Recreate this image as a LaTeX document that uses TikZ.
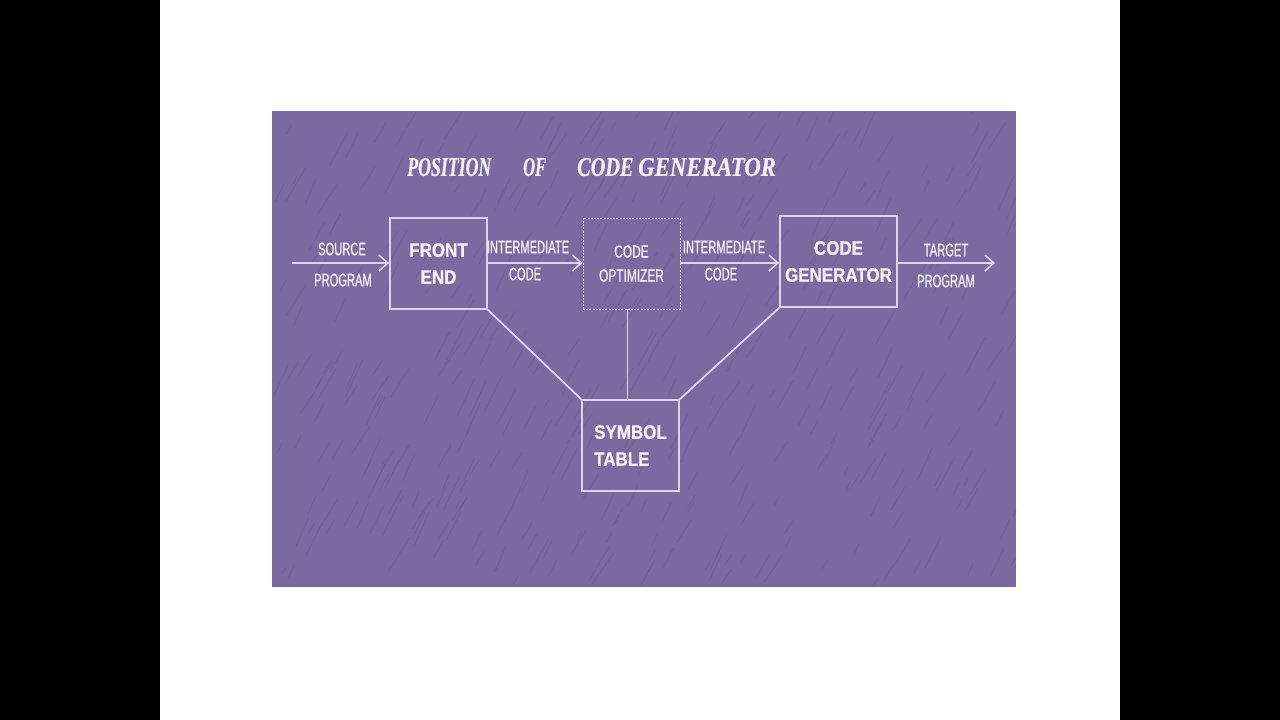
\documentclass[tikz,border=0pt]{standalone}
\usepackage{fontspec}
\setmainfont{Liberation Sans}
\newfontfamily\labfont[FakeStretch=0.62,FakeBold=0.8]{Liberation Sans}
\newfontfamily\optfont[FakeStretch=0.68,FakeBold=0.6]{Liberation Sans}
\newfontfamily\boxfont[FakeStretch=0.87,FakeBold=0.8]{Liberation Sans}
\newfontfamily\titlefont[FakeBold=0.8]{Liberation Serif}
\usetikzlibrary{arrows.meta}
\definecolor{slidebg}{RGB}{123,106,160}
\definecolor{streakc}{RGB}{92,78,128}
\definecolor{linec}{RGB}{222,212,242}
\definecolor{txtc}{RGB}{245,240,252}
\tikzset{
  blockbox/.style={draw=linec, line width=1.8pt, minimum width=97pt, minimum height=91pt, inner sep=0pt,
    text=txtc, font=\boxfont\bfseries\fontsize{19.5}{27}\selectfont, align=center},
  dotbox/.style={draw=linec, line width=0.9pt, dash pattern=on 2pt off 1.2pt, minimum width=97pt, minimum height=91pt, inner sep=0pt,
    text=txtc, font=\optfont\fontsize{17.5}{24}\selectfont, align=center},
  lab/.style={text=txtc, font=\labfont\fontsize{18}{20}\selectfont, inner sep=0pt},
  ttl/.style={text=txtc, font=\titlefont\bfseries\itshape\fontsize{27}{28}\selectfont, inner sep=0pt, anchor=west},
  flow/.style={draw=linec, line width=1.8pt, -{Straight Barb[length=9pt,width=16pt,line width=1.6pt]}},
  link/.style={draw=linec, line width=1.8pt},
  thinlink/.style={draw=linec, line width=0.9pt},
  streak/.style={draw=streakc, line width=0.6pt, opacity=0.35}
}
\begin{document}
\begin{tikzpicture}[x=1pt,y=-1pt]
\useasboundingbox (0,0) rectangle (1280,720);
\fill[black] (0,0) rectangle (1280,720);
\fill[white] (160,0) rectangle (1120,720);
\fill[slidebg] (272,111) rectangle (1016,587);
% background texture
\pgfmathsetseed{7}
\begin{scope}
\clip (272,111) rectangle (1016,587);
\foreach \i in {1,...,450}{
  \pgfmathsetmacro\xx{272+744*rnd}
  \pgfmathsetmacro\yy{111+476*rnd}
  \pgfmathsetmacro\ll{8+34*rnd}
  \pgfmathsetmacro\aa{-55-12*rnd}
  \draw[streak] (\xx,\yy) -- ++(\aa:\ll);
}
\end{scope}
% title
\node[ttl] (t1) at (407,167) {\scalebox{0.66}[1]{POSITION}};
\node[ttl] (t2) at (523,167) {\scalebox{0.61}[1]{OF}};
\node[ttl] (t3) at (577,167) {\scalebox{0.75}[1]{CODE}};
\node[ttl] (t4) at (638,167) {\scalebox{0.845}[1]{GENERATOR}};
% boxes
\node[blockbox] (fe) at (438.5,263.5) {FRONT\\END};
\node[dotbox] (co) at (631.5,263.5) {CODE\\OPTIMIZER};
\node[blockbox, minimum width=117pt] (cg) at (838.5,261.5) {CODE\\GENERATOR};
\node[blockbox, align=left] (st) at (630.5,445.5) {SYMBOL\\TABLE};
% input / output ends
\coordinate (in) at (292,263);
\coordinate (out) at (995,263);
% arrows
\draw[flow] (in) -- (fe.west |- in);
\draw[flow] (fe.east |- in) -- (co.west |- in);
\draw[flow] (co.east |- in) -- (cg.west |- in);
\draw[flow] (cg.east |- in) -- (out);
% links to symbol table
\draw[link] (fe.south east) -- (st.north west);
\draw[link] (cg.south west) -- (st.north east);
\draw[thinlink] (co.south -| 627,0) -- (st.north -| 627,0);
% labels
\node[lab] (l1) at (342,249) {SOURCE};
\node[lab] (l2) at (343,280) {PROGRAM};
\node[lab] (l3) at (528,247) {INTERMEDIATE};
\node[lab] (l4) at (525,274) {CODE};
\node[lab] (l5) at (724,247) {INTERMEDIATE};
\node[lab] (l6) at (721,274) {CODE};
\node[lab] (l7) at (946,250) {TARGET};
\node[lab] (l8) at (946,281) {PROGRAM};
\end{tikzpicture}
\end{document}
